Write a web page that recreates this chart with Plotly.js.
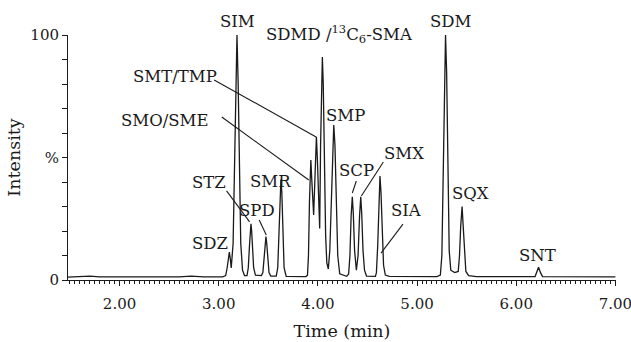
<!DOCTYPE html>
<html>
<head>
<meta charset="utf-8">
<script src="https://cdn.plot.ly/plotly-3.0.1.min.js"></script>
<style>html,body{margin:0;padding:0;background:#fff;}#chart{width:631px;height:342px;}</style>
</head>
<body>
<div id="chart"></div>
<script>
// Chromatogram trace: retention time (min) and relative intensity (%)
const time = [
  1.48, 1.60, 1.70, 1.80, 2.20, 2.60, 2.72, 2.85, 3.04,
  3.07, 3.085, 3.097, 3.107, 3.117, 3.126,
  3.145, 3.16, 3.172, 3.184, 3.196, 3.208, 3.222, 3.24, 3.26,
  3.285, 3.298, 3.31, 3.318, 3.325, 3.332, 3.34, 3.352, 3.37, 3.43,
  3.445, 3.458, 3.468, 3.476, 3.484, 3.494, 3.507, 3.525,
  3.58, 3.595, 3.608, 3.618, 3.627, 3.636, 3.646, 3.659, 3.68, 3.88,
  3.895, 3.905, 3.915, 3.922, 3.929, 3.937, 3.948, 3.957,
  3.967, 3.976, 3.985, 3.994, 4.006, 4.018,
  4.027, 4.036, 4.045, 4.054, 4.066, 4.078, 4.09, 4.105,
  4.12, 4.135, 4.148, 4.16, 4.172, 4.186, 4.2, 4.22, 4.29,
  4.31, 4.323, 4.335, 4.347, 4.357, 4.37, 4.388,
  4.405, 4.42, 4.432, 4.442, 4.455, 4.47, 4.49, 4.58,
  4.59, 4.603, 4.615, 4.626, 4.636, 4.648, 4.662, 4.68, 4.72, 5.20,
  5.235, 5.25, 5.264, 5.276, 5.287, 5.298, 5.31, 5.324, 5.34, 5.38,
  5.415, 5.428, 5.44, 5.454, 5.465, 5.478, 5.492, 5.52, 5.60,
  6.19, 6.205, 6.225, 6.245, 6.265, 7.00
];
const intensity = [
  1.2, 1.3, 1.6, 1.3, 1.2, 1.3, 1.6, 1.3, 1.3,
  1.8, 5, 9.5, 11.4, 8.5, 4.9,
  15, 45, 80, 100, 80, 45, 15, 4, 1.8,
  1.8, 5, 14, 20, 22.9, 20, 14, 5, 2, 1.8,
  3, 9, 15, 17.7, 15, 9, 3, 1.6,
  1.6, 5, 20, 36, 41, 36, 20, 5, 1.5, 1.4,
  2, 10, 32, 44, 49, 42, 30, 26.5,
  38, 52, 58.5, 50, 30, 21,
  55, 82, 91, 80, 45, 18, 7, 4.5,
  12, 35, 56, 63.3, 55, 30, 10, 2.5, 1.5,
  2.5, 10, 26, 34, 27, 12, 4,
  10, 26, 34, 27, 12, 4, 1.6, 1.5,
  3, 14, 34, 42.4, 36, 18, 6, 2, 1.5, 1.4,
  2, 10, 45, 85, 100, 85, 45, 12, 4, 3,
  3.5, 10, 22, 30, 22, 10, 3.5, 1.8, 1.4,
  1.4, 3, 5.2, 3, 1.4, 1.3
];

// Peak labels: text, label time, label height (fraction of plot height)
const peakNames = ["SIM", "SDMD /<sup>13</sup>C<sub>6</sub>-SMA", "SDZ", "SMR", "SMP", "SQX", "SDM", "SNT",
                   "SMT/TMP", "SMO/SME", "STZ", "SPD", "SCP", "SMX", "SIA"];
const labelTime = [3.190, 4.216, 2.909, 3.522, 4.277, 5.534, 5.343, 6.218,
                   2.556, 2.456, 2.899, 3.381, 4.387, 4.870, 4.890];
const labelLevel = [1.057, 1.004, 0.147, 0.404, 0.673, 0.355, 1.057, 0.098,
                    0.829, 0.649, 0.396, 0.282, 0.445, 0.518, 0.282];

// Leader lines: point on the peak (time, intensity) and pixel offset to the label end
const leaderTime = [3.982, 3.908, 3.311, 3.479, 4.347, 4.438, 4.636];
const leaderIntensity = [58.4, 40.8, 23.7, 18.4, 35.5, 34.3, 11];
const leaderDx = [-102, -87, -23, -7, 4, 22, 22];
const leaderDy = [57, 63, 31, 15, 12, 34, 29];

// Axis tick label for the 50 % mark
const yLabelAlias = {"50": "%"};

const FONT = "DejaVu Serif";
const INK = "#1a1a1a";

const trace = {
  x: time, y: intensity, type: "scatter", mode: "lines",
  line: {color: INK, width: 1.3}, hoverinfo: "skip", showlegend: false
};

const annotations = peakNames.map((t, i) => ({
  text: t, x: labelTime[i], xref: "x", y: labelLevel[i], yref: "paper",
  showarrow: false, xanchor: "center", yanchor: "middle",
  font: {family: FONT, size: 16.5, color: INK}
}));

const shapes = leaderTime.map((t, i) => ({
  type: "line", xref: "x", yref: "y",
  xsizemode: "pixel", ysizemode: "pixel",
  xanchor: t, yanchor: leaderIntensity[i],
  x0: 0, y0: 0, x1: leaderDx[i], y1: leaderDy[i],
  line: {color: INK, width: 1.1}
}));

const layout = {
  width: 631, height: 342,
  margin: {l: 68, r: 15, t: 35, b: 62},
  paper_bgcolor: "#fff", plot_bgcolor: "#fff",
  font: {family: FONT, size: 16, color: INK},
  showlegend: false,
  xaxis: {
    range: [1.48, 7.006], showgrid: false, zeroline: false,
    showline: true, linecolor: INK, linewidth: 1,
    ticks: "outside", ticklen: 5, tickcolor: INK, tickwidth: 1,
    tickmode: "linear", tick0: 0, dtick: 1, tickformat: ".2f",
    minor: {ticks: "outside", ticklen: 3, tickcolor: INK, dtick: 0.05, showgrid: false},
    ticklabeloverflow: "allow",
    tickfont: {family: FONT, size: 15, color: INK},
    ticklabelstandoff: 5,
    title: {text: "Time (min)", font: {family: FONT, size: 17.5, color: INK}, standoff: 12}
  },
  yaxis: {
    range: [0, 100], showgrid: false, zeroline: false,
    showline: true, linecolor: INK, linewidth: 1,
    ticks: "outside", ticklen: 5, tickcolor: INK, tickwidth: 1,
    tickmode: "linear", tick0: 0, dtick: 50, labelalias: yLabelAlias,
    minor: {ticks: "outside", ticklen: 5, tickcolor: INK, dtick: 10, showgrid: false},
    tickfont: {family: FONT, size: 15, color: INK},
    title: {text: "Intensity", font: {family: FONT, size: 17.5, color: INK}, standoff: 5}
  },
  annotations: annotations,
  shapes: shapes
};

Plotly.newPlot("chart", [trace], layout, {staticPlot: true, displayModeBar: false});
</script>
</body>
</html>
